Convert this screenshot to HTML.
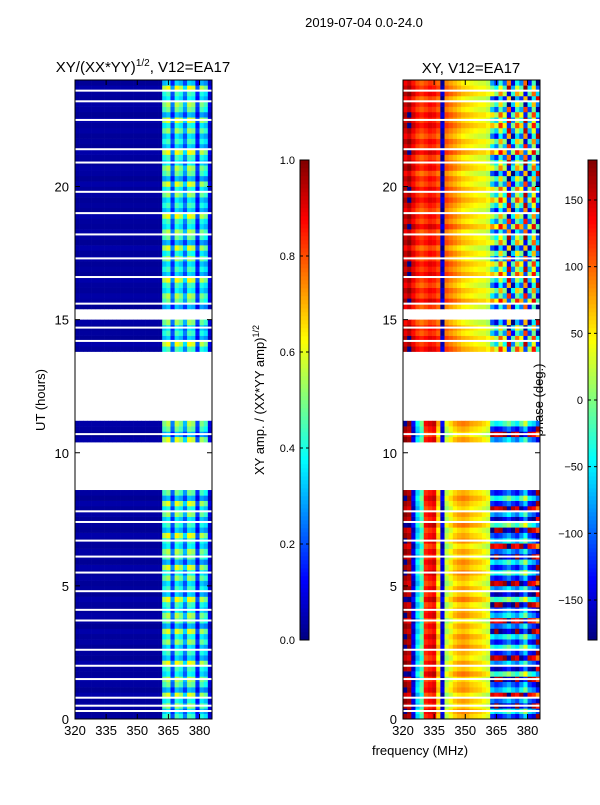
<!DOCTYPE html>
<html><head><meta charset="utf-8"><style>
body{margin:0;background:#fff;font-family:"Liberation Sans",sans-serif}
svg text{font-family:"Liberation Sans",sans-serif;fill:#000}
</style></head><body>
<svg id="fig" width="600" height="800" xmlns="http://www.w3.org/2000/svg">
<text x="364" y="27" font-size="13" text-anchor="middle">2019-07-04 0.0-24.0</text>
<text x="143" y="72" font-size="15" text-anchor="middle">XY/(XX*YY)<tspan font-size="10" dy="-6">1/2</tspan><tspan dy="6">, V12=EA17</tspan></text>
<text x="471" y="73" font-size="15" text-anchor="middle">XY, V12=EA17</text>
<text transform="translate(45,400) rotate(-90)" font-size="13" text-anchor="middle">UT (hours)</text>
<text x="420" y="755" font-size="13" text-anchor="middle">frequency (MHz)</text>
<text transform="translate(264,400) rotate(-90)" font-size="13" text-anchor="middle">XY amp. / (XX*YY amp)<tspan font-size="9" dy="-5">1/2</tspan></text>
<text transform="translate(543,400) rotate(-90)" font-size="13" text-anchor="middle">phase (deg.)</text>
<g id="left"></g>
<g id="right"></g>
<g id="cb"></g>
<g id="axes"></g>
</svg>
<script>
// ---- data ----
const freqStart = 320, freqEnd = 386, freqStep = 2;
const hourStep = 0.2;
const xTicks = [320, 335, 350, 365, 380];
const yTicks = [0, 5, 10, 15, 20];
const ampTicks = [0.0, 0.2, 0.4, 0.6, 0.8, 1.0];
const phaseTicks = [-150, -100, -50, 0, 50, 100, 150];
const blankRanges = [[8.5, 10.4], [11.1, 13.8], [15.0, 15.4]];
const flaggedHours = [0.3, 0.5, 0.8, 1.5, 2.0, 2.6, 3.7, 4.1, 4.8, 5.5, 6.1, 6.7, 7.4, 7.8, 10.7, 14.2, 14.7, 15.6, 16.6, 17.3, 18.2, 19.0, 19.8, 20.9, 21.4, 22.5, 23.2, 23.6];
// amplitude per 2 MHz bin (320..386)
const colAmp = [0.03,0.03,0.03,0.03,0.03,0.03,0.03,0.03,0.03,0.03,0.03,0.03,0.03,0.03,0.03,0.03,0.03,0.03,0.03,0.03,0.03,0.4,0.45,0.2,0.45,0.4,0.25,0.45,0.42,0.15,0.4,0.35,0.08];
const rowGain = [1.0,0.8,1.2,0.9,1.35,0.7,1.1,1.25,0.85,1.0,1.4,0.75];
// phase per bin, early hours (0-12) and late hours (12-24)
const colPhaseEarly = [170,160,-150,-60,-20,120,130,140,60,-150,20,40,60,70,75,70,60,55,50,40,30,-120,-140,-130,-110,-90,-120,-140,-100,-60,-130,-150,170];
const colPhaseLate = [150,165,140,120,110,120,130,125,110,-160,100,90,80,70,60,55,50,45,40,40,30,-20,-60,30,-40,150,-90,20,-30,160,-70,40,-120];
const rowShift = [0,25,-15,10,-30,20,5,-20,35,-10,15,-25,0,30];

// ---- helpers ----
const NS = "http://www.w3.org/2000/svg";
function jet(v){v=Math.max(0,Math.min(1,v));
 const r=Math.max(0,Math.min(1,1.5-Math.abs(4*v-3))),g=Math.max(0,Math.min(1,1.5-Math.abs(4*v-2))),b=Math.max(0,Math.min(1,1.5-Math.abs(4*v-1)));
 return `rgb(${Math.round(r*255)},${Math.round(g*255)},${Math.round(b*255)})`;}
function mk(tag,attrs,parent){const e=document.createElementNS(NS,tag);for(const k in attrs)e.setAttribute(k,attrs[k]);parent.appendChild(e);return e;}
const Y0=719, Y1=80;
const yScale = h => Y0 - (h/24)*(Y0-Y1);
function xScaleFor(x0){return f => x0 + (f-freqStart)/(freqEnd-freqStart)*137;}
const nCols = colAmp.length, nRows = Math.round(24/hourStep);
function blank(h){return blankRanges.some(b=>h>=b[0]-1e-9 && h<b[1]-1e-9);}

function drawPanel(gid,x0,valFn){
 const g=document.getElementById(gid), xs=xScaleFor(x0);
 for(let r=0;r<nRows;r++){const h=r*hourStep; if(blank(h)) continue;
  const y=yScale(h+hourStep), hh=yScale(h)-y;
  for(let c=0;c<nCols;c++){const f=freqStart+c*freqStep;
   const rc=mk('rect',{x:xs(f),y:y,width:xs(f+freqStep)-xs(f)+0.3,height:hh+0.3,fill:jet(valFn(c,r,h))},g);
   
   
  }}
 flaggedHours.forEach(fh=>{const l=mk('rect',{x:x0,y:yScale(fh)-1,width:137,height:2,fill:'#fff'},g);
  
  });
}
drawPanel('left',75,(c,r)=>colAmp[c]*rowGain[r%rowGain.length]);
drawPanel('right',403,(c,r,h)=>{let p=(h<12?colPhaseEarly[c]:colPhaseLate[c]); if(c>=21) p+=rowShift[r%rowShift.length]*3; else p+=rowShift[r%rowShift.length]*0.6;
 p=((p+180)%360+360)%360-180; return (p+180)/360;});

// axes frames and ticks
const ax=document.getElementById('axes');
[75,403].forEach((x0,i)=>{
 const fr=mk('rect',{x:x0,y:Y1,width:137,height:Y0-Y1,fill:'none',stroke:'#000','stroke-width':1},ax);
 
 
 const xs=xScaleFor(x0);
 xTicks.forEach(t=>{const x=xs(t);
  mk('line',{x1:x,x2:x,y1:Y0,y2:Y0-5,stroke:'#000'},ax);mk('line',{x1:x,x2:x,y1:Y1,y2:Y1+5,stroke:'#000'},ax);
  const tx=mk('text',{x:x,y:Y0+16,'font-size':13,'text-anchor':'middle'},ax);tx.textContent=t;
  
  });
 yTicks.forEach(t=>{const y=yScale(t);
  mk('line',{x1:x0,x2:x0+5,y1:y,y2:y,stroke:'#000'},ax);mk('line',{x1:x0+137,x2:x0+132,y1:y,y2:y,stroke:'#000'},ax);
  const tx=mk('text',{x:x0-6,y:y+5,'font-size':13,'text-anchor':'end'},ax);tx.textContent=t;
  
  });
});
// colorbars
const cb=document.getElementById('cb');
function colorbar(x0,ticks,lo,hi,name){
 const n=120;for(let i=0;i<n;i++){const v=i/n;
  mk('rect',{x:x0,y:640-(i+1)*4,width:9,height:4.3,fill:jet(v+0.5/n)},cb);}
 const f=mk('rect',{x:x0,y:160,width:9,height:480,fill:'none',stroke:'#000'},cb);
 
 
 ticks.forEach(t=>{const y=640-(t-lo)/(hi-lo)*480;
  mk('line',{x1:x0,x2:x0+3,y1:y,y2:y,stroke:'#000'},cb);mk('line',{x1:x0+9,x2:x0+6,y1:y,y2:y,stroke:'#000'},cb);
  const tx=mk('text',{x:x0-5,y:y+4,'font-size':11,'text-anchor':'end'},cb);
  tx.textContent=(lo===0?t.toFixed(1):(t<0?'\u2212'+(-t):t));
  
  });
}
colorbar(300,ampTicks,0,1,'amp-colorbar');
colorbar(588,phaseTicks,-180,180,'phase-colorbar');
</script>
</body></html>
